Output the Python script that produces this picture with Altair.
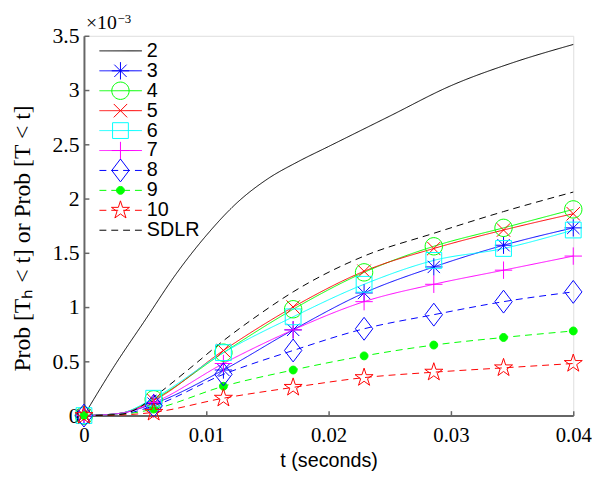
import altair as alt
import pandas as pd

# ---------------- data ----------------
series_names = ["2", "3", "4", "5", "6", "7", "8", "9", "10", "SDLR"]
series_colors = ["#000000", "#0000ff", "#00ff00", "#ff0000", "#00ffff",
                 "#ff00ff", "#0000ff", "#00ff00", "#ff0000", "#000000"]
dashed_series = ["8", "9", "10", "SDLR"]
marker_series = ["3", "4", "5", "6", "7", "8", "9", "10"]

# curve "2" (solid black, no markers)
t_two = [0, 0.0025, 0.005, 0.0075, 0.01, 0.0125, 0.015, 0.0175, 0.02,
         0.025, 0.03, 0.035, 0.04]
p_two = [0, 0.46, 0.88, 1.30, 1.66, 1.96, 2.18, 2.34, 2.48,
         2.76, 3.04, 3.25, 3.42]

# SDLR (dashed black, no markers)
t_sdlr = [0, 0.0029, 0.0043, 0.0057, 0.0086, 0.0114, 0.0143, 0.0171,
          0.0229, 0.0286, 0.0343, 0.04]
p_sdlr = [0, 0.01, 0.06, 0.17, 0.43, 0.69, 0.93, 1.14,
          1.47, 1.68, 1.88, 2.06]

# series with markers, sampled at the marker positions
t_marks = [0, 0.0057, 0.0114, 0.0171, 0.0229, 0.0286, 0.0343, 0.04]
p3 = [0, 0.11, 0.42, 0.79, 1.13, 1.37, 1.57, 1.73]
p4 = [0, 0.15, 0.58, 0.98, 1.32, 1.56, 1.73, 1.90]
p5 = [0, 0.14, 0.60, 1.00, 1.33, 1.54, 1.71, 1.86]
p6 = [0, 0.16, 0.58, 0.91, 1.21, 1.43, 1.54, 1.71]
p7 = [0, 0.12, 0.48, 0.79, 1.05, 1.21, 1.34, 1.47]
p8 = [0, 0.09, 0.38, 0.60, 0.80, 0.93, 1.05, 1.14]
p9 = [0, 0.06, 0.27, 0.42, 0.55, 0.65, 0.72, 0.78]
p10 = [0, 0.03, 0.16, 0.26, 0.35, 0.40, 0.44, 0.48]
marker_values = [p3, p4, p5, p6, p7, p8, p9, p10]

# extra line point read near the start (flat part of the curves)
t_early = 0.0029
p_early = [0.02, 0.02, 0.02, 0.02, 0.02, 0.01, 0.01, 0.005]

x_ticks = [0, 0.01, 0.02, 0.03, 0.04]
y_ticks = [0, 0.5, 1, 1.5, 2, 2.5, 3, 3.5]
exponent_base = "×10"
exponent_power = "−3"

# ---------------- styles ----------------
# marker paths, 1 unit = 8 px at size 256
BOX = "M0,-2.19L0,-2.19M0,2.19L0,2.19"   # zero-length ends: equal legend row extents
SHAPES = {
    "3": "M-1.1,0H1.1M0,-1.1V1.1M-0.78,-0.78L0.78,0.78M-0.78,0.78L0.78,-0.78",
    "4": "M-1.1,0A1.1,1.1 0 1,0 1.1,0A1.1,1.1 0 1,0 -1.1,0Z",
    "5": "M-0.85,-0.85L0.85,0.85M-0.85,0.85L0.85,-0.85",
    "6": "M-1,-1H1V1H-1Z",
    "7": "M-1.1,0H1.1M0,-1.1V1.1",
    "8": "M0,-1.45L1.1,0L0,1.45L-1.1,0Z",
    "9": "M-0.5,0A0.5,0.5 0 1,0 0.5,0A0.5,0.5 0 1,0 -0.5,0Z",
    "10": ("M0,-1.2L0.269,-0.371L1.141,-0.371L0.436,0.142L0.706,0.971L0,0.458"
           "L-0.706,0.971L-0.436,0.142L-1.141,-0.371L-0.269,-0.371Z"),
}
MARK_SIZE = 256
LINE_SYMBOL = "M-2.263,0H2.263"   # 43 px long at size 361
LINE_SYMBOL_SIZE = 361

group_a = ["3", "5", "7", "9"]    # legend rows 2, 4, 6, 8
group_b = ["4", "6", "8", "10"]   # legend rows 3, 5, 7, 9

dash_range = [[7, 5] if s in dashed_series else [1, 0] for s in series_names]
fill_range = [c if s == "9" else "transparent" for s, c in zip(series_names, series_colors)]

AXIS_GRAY = "#666666"
SERIF = "Liberation Serif"
SANS = "Liberation Sans"

# ---------------- tables ----------------
rows = []
for t, p in zip(t_two, p_two):
    rows.append({"series": "2", "t": t, "p": p})
for name, vals, pe in zip(marker_series, marker_values, p_early):
    for t, p in zip(t_marks, vals):
        rows.append({"series": name, "t": t, "p": p})
    rows.append({"series": name, "t": t_early, "p": pe})
for t, p in zip(t_sdlr, p_sdlr):
    rows.append({"series": "SDLR", "t": t, "p": p})
lines_df = pd.DataFrame(rows)


def marker_table(names):
    out = []
    for name, vals in zip(marker_series, marker_values):
        if name in names:
            for t, p in zip(t_marks, vals):
                out.append({"series": name, "mk": "m" + name, "t": t, "p": p})
    return pd.DataFrame(out)


base_df = pd.DataFrame({"t": [x_ticks[0]], "p": [y_ticks[-1]], "txt": [exponent_base]})
power_df = pd.DataFrame({"t": [x_ticks[0]], "p": [y_ticks[-1]], "txt": [exponent_power]})

# ---------------- scales / axes / legends ----------------
x_scale = alt.Scale(domain=[0, 0.04], nice=False, zero=False)
y_scale = alt.Scale(domain=[0, 3.5], nice=False)
color_scale = alt.Scale(domain=series_names, range=series_colors)
dash_scale = alt.Scale(domain=series_names, range=dash_range)
fill_scale = alt.Scale(domain=series_names, range=fill_range)

x_axis = alt.Axis(
    values=x_ticks, format="~g", labelFlush=False, labelFont=SERIF,
    labelFontSize=21, labelColor="black", labelPadding=14, ticks=True,
    tickSize=alt.ExprRef(expr="-5"), tickColor=AXIS_GRAY, tickWidth=1.5,
    domainColor=AXIS_GRAY, domainWidth=2, grid=False,
    title="t (seconds)", titleFont=SANS, titleFontSize=20,
    titleFontWeight="normal", titleColor="black", titlePadding=6)
y_axis = alt.Axis(
    values=y_ticks, format="~g", labelFlush=False, labelFont=SERIF,
    labelFontSize=22, labelColor="black", labelPadding=10, ticks=True,
    tickSize=alt.ExprRef(expr="-5"), tickColor=AXIS_GRAY, tickWidth=1.5,
    domainColor=AXIS_GRAY, domainWidth=2, grid=False,
    title="Prob [Tₕ < t] or Prob [T < t]", titleFont=SERIF,
    titleFontSize=24, titleFontWeight="normal", titleColor="black",
    titlePadding=18, titleY=205)

legend_lines = alt.Legend(
    orient="none", legendX=27.2, legendY=5.3, title=None,
    symbolType=LINE_SYMBOL, symbolSize=LINE_SYMBOL_SIZE, symbolStrokeWidth=1,
    labelFont=SANS, labelFontSize=20, labelColor="black", labelOffset=16.5,
    labelLimit=300, rowPadding=0.2, padding=0, gridAlign="all",
)


def marker_legend(y0):
    return alt.Legend(
        orient="none", legendX=17, legendY=y0, title=None,
        symbolSize=MARK_SIZE, symbolStrokeWidth=1, symbolOpacity=1,
        symbolStrokeColor=alt.ExprRef(expr="scale('color', substring(datum.value, 1))"),
        symbolFillColor=alt.ExprRef(expr="scale('fill', substring(datum.value, 1))"),
        labelExpr="''", labelFontSize=40, rowPadding=0.4, padding=0,
        gridAlign="all",
    )


def marker_layer(names, y0):
    return alt.Chart(marker_table(names)).mark_point(
        filled=False, size=MARK_SIZE, strokeWidth=1, opacity=1
    ).encode(
        x=alt.X("t:Q", scale=x_scale, axis=x_axis),
        y=alt.Y("p:Q", scale=y_scale, axis=y_axis),
        color=alt.Color("series:N", scale=color_scale, legend=None),
        fill=alt.Fill("series:N", scale=fill_scale, legend=None),
        shape=alt.Shape("mk:N", scale=alt.Scale(
            domain=["m" + s for s in names],
            range=[BOX + SHAPES[s] for s in names]),
            legend=marker_legend(y0)),
    )


lines = alt.Chart(lines_df).mark_line(strokeWidth=1, interpolate="monotone").encode(
    x=alt.X("t:Q", scale=x_scale, axis=x_axis),
    y=alt.Y("p:Q", scale=y_scale, axis=y_axis),
    color=alt.Color("series:N", scale=color_scale, legend=legend_lines),
    strokeDash=alt.StrokeDash("series:N", scale=dash_scale, legend=legend_lines),
)

points_a = marker_layer(group_a, 15.5)
points_b = marker_layer(group_b, 35.7)

exp_base = alt.Chart(base_df).mark_text(
    align="left", baseline="alphabetic", dx=2, dy=-7,
    font=SERIF, fontSize=20, color="black"
).encode(
    x=alt.X("t:Q", scale=x_scale, axis=x_axis),
    y=alt.Y("p:Q", scale=y_scale, axis=y_axis),
    text="txt:N",
)
exp_power = alt.Chart(power_df).mark_text(
    align="left", baseline="top", dx=34, dy=-23,
    font=SERIF, fontSize=13, color="black"
).encode(
    x=alt.X("t:Q", scale=x_scale, axis=x_axis),
    y=alt.Y("p:Q", scale=y_scale, axis=y_axis),
    text="txt:N",
)

chart = alt.layer(lines, points_a, points_b, exp_base, exp_power).resolve_scale(
    shape="independent"
).properties(
    width=496, height=385,
    autosize=alt.AutoSizeParams(type="none"),
    padding={"left": 77, "top": 25, "right": 19, "bottom": 53},
).configure_view(stroke=None).configure(background="white")

chart.save("out.html", embed_options={"renderer": "svg", "actions": False})
